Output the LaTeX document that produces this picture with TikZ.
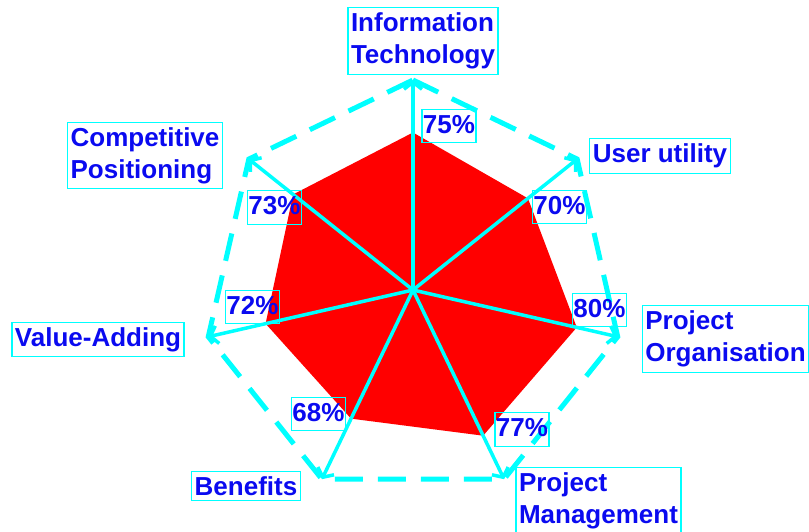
\documentclass[tikz,border=0pt]{standalone}
\usepackage{fontspec}
\setmainfont{Liberation Sans}
\usetikzlibrary{arrows.meta}
\definecolor{aqua}{RGB}{0,255,255}
\definecolor{ink}{RGB}{10,10,240}

\begin{document}
\begin{tikzpicture}[x=1pt, y=1pt]
\tikzstyle{axis} = [draw=aqua, line width=3.5pt,
  -{Straight Barb[length=7pt, width=18pt]}]
\tikzstyle{frame} = [draw=aqua, line width=5pt, dash pattern=on 28pt off 15pt]
\tikzstyle{box} = [draw=aqua, line width=1.2pt, text=ink,
  font=\bfseries\fontsize{26}{32}\selectfont]
\tikzstyle{cat} = [box, align=left, inner xsep=3pt, inner ysep=5pt]
\tikzstyle{value} = [box, inner xsep=1pt, inner ysep=4.5pt,
  text height=19.5pt, text depth=5pt]

\useasboundingbox (-413,-241) rectangle (396,290);

\coordinate (c) at (0,0);
\coordinate (it) at (90:210);
\coordinate (uu) at (38.57:210);
\coordinate (po) at (-12.86:210);
\coordinate (pm) at (-64.29:210);
\coordinate (be) at (-115.71:210);
\coordinate (va) at (-167.14:210);
\coordinate (cp) at (141.43:210);

% scores
\fill[red] (90:157.5) -- (38.57:147) -- (-12.86:168) -- (-64.29:161.7)
  -- (-115.71:142.8) -- (-167.14:151.2) -- (141.43:153.3) -- cycle;

\draw[axis] (c) -- (it);
\draw[axis] (c) -- (uu);
\draw[axis] (c) -- (po);
\draw[axis] (c) -- (pm);
\draw[axis] (c) -- (be);
\draw[axis] (c) -- (va);
\draw[axis] (c) -- (cp);

\draw[frame] (it) -- (uu) -- (po) -- (pm) -- (be) -- (va) -- (cp) -- cycle;

\node[cat] (itlabel) at (10,249) {Information\\Technology};
\node[cat] (uulabel) at (247,134) {User utility};
\node[cat] (polabel) at (312.5,-49) {Project\\Organisation};
\node[cat] (pmlabel) at (185.5,-211) {Project\\Management};
\node[cat] (belabel) at (-167,-196) {Benefits};
\node[cat] (valabel) at (-315,-49.5) {Value-Adding};
\node[cat] (cplabel) at (-268,134.5) {Competitive\\Positioning};

\node[value] (itval) at (36,164) {75\%};
\node[value] (uuval) at (146.5,83) {70\%};
\node[value] (poval) at (186.5,-20) {80\%};
\node[value] (pmval) at (109,-139.5) {77\%};
\node[value] (beval) at (-94.5,-124) {68\%};
\node[value] (vaval) at (-160.5,-17) {72\%};
\node[value] (cpval) at (-138.5,82.5) {73\%};
\end{tikzpicture}
\end{document}
